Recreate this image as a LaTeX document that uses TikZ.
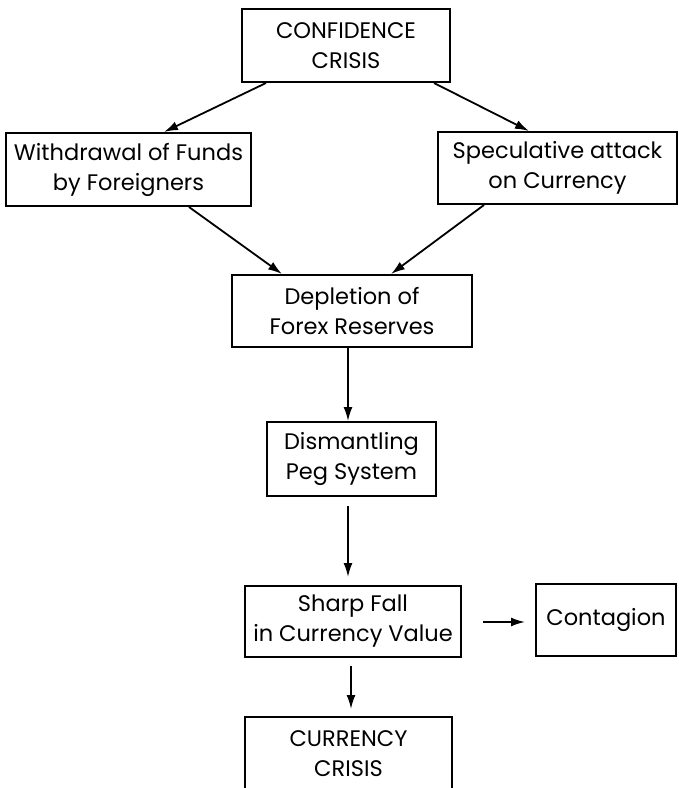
\documentclass[tikz,border=0pt]{standalone}
\usepackage{fontspec}
\setmainfont{Poppins}
\usetikzlibrary{arrows.meta}
\begin{document}
\begin{tikzpicture}[x=1pt,y=-1pt,
  box/.style={draw, line width=2pt, rectangle, align=center, inner sep=0pt,
    font=\fontsize{22.5}{30}\selectfont},
  conn/.style={line width=1.8pt, -{Latex[length=14pt,width=9pt]}}]
\useasboundingbox (0,0) rectangle (679,788);
\node[box, minimum width=208pt, minimum height=73pt] (cc) at (346,45.5) {CONFIDENCE\\CRISIS};
\node[box, minimum width=245pt, minimum height=73pt] (wf) at (128.5,169.5) {Withdrawal of Funds\\by Foreigners};
\node[box, minimum width=239pt, minimum height=72pt] (sa) at (557.5,168) {Speculative attack\\on Currency};
\node[box, minimum width=240pt, minimum height=72pt] (dr) at (352,311) {Depletion of\\Forex Reserves};
\node[box, minimum width=169pt, minimum height=74pt] (dp) at (351.5,459) {Dismantling\\Peg System};
\node[box, minimum width=216pt, minimum height=71pt] (sf) at (353,621.5) {Sharp Fall\\in Currency Value};
\node[box, minimum width=140pt, minimum height=72pt] (ct) at (606,620) {Contagion};
\node[box, minimum width=207pt, minimum height=73pt] (cr) at (348.5,753.5) {CURRENCY\\CRISIS};

\draw[conn] ([xshift=25pt]cc.south west) -- ([xshift=159pt]wf.north west);
\draw[conn] ([xshift=-17pt]cc.south east) -- ([xshift=92pt]sa.north west);
\draw[conn] ([xshift=184pt]wf.south west) -- ([xshift=51pt]dr.north west);
\draw[conn] ([xshift=47pt]sa.south west) -- ([xshift=160pt]dr.north west);
\draw[conn] ([xshift=-4pt]dr.south) -- ([xshift=-3.5pt]dp.north);
\draw[conn, shorten <=9pt, shorten >=8pt] ([xshift=-3.5pt]dp.south) -- ([xshift=-5pt]sf.north);
\draw[conn, shorten <=21pt, shorten >=10pt] (sf.east |- 0,622) -- (ct.west |- 0,622);
\draw[conn, shorten <=8pt, shorten >=7pt] ([xshift=-2pt]sf.south) -- ([xshift=2.5pt]cr.north);
\end{tikzpicture}
\end{document}
